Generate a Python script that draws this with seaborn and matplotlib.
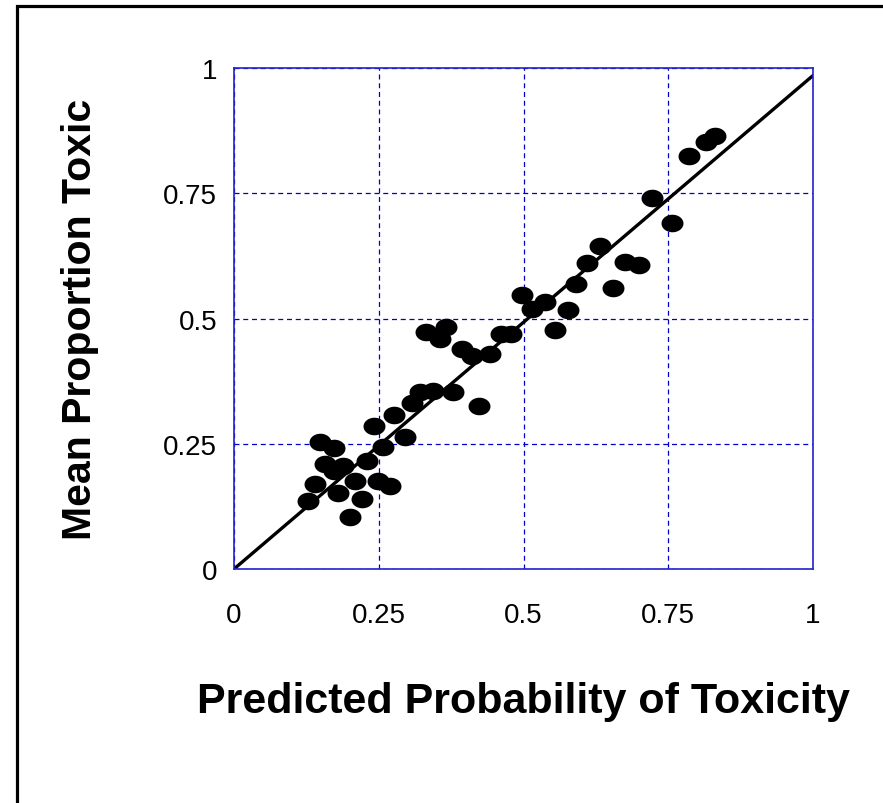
import numpy as np
import pandas as pd
import matplotlib
matplotlib.use('Agg')
import matplotlib.pyplot as plt
from matplotlib.path import Path
from matplotlib.patches import Rectangle
import seaborn as sns

# Data
predicted = [0.128, 0.140, 0.149, 0.172, 0.157, 0.189, 0.172, 0.209, 0.180, 0.221,
             0.200, 0.229, 0.249, 0.269, 0.258, 0.241, 0.277, 0.295, 0.308, 0.321,
             0.344, 0.379, 0.423, 0.332, 0.366, 0.355, 0.394, 0.411, 0.442, 0.462,
             0.478, 0.497, 0.514, 0.537, 0.576, 0.554, 0.591, 0.610, 0.632, 0.655,
             0.676, 0.699, 0.756, 0.722, 0.786, 0.815, 0.831]
observed = [0.136, 0.170, 0.253, 0.241, 0.210, 0.206, 0.196, 0.176, 0.152, 0.140,
            0.103, 0.216, 0.176, 0.166, 0.243, 0.286, 0.308, 0.263, 0.331, 0.354,
            0.356, 0.354, 0.325, 0.474, 0.484, 0.460, 0.440, 0.426, 0.429, 0.469,
            0.469, 0.546, 0.519, 0.532, 0.516, 0.477, 0.569, 0.610, 0.644, 0.560,
            0.613, 0.607, 0.691, 0.740, 0.824, 0.852, 0.865]
line_x = [0, 1]
line_y = [0, 0.985]
ticks = [0, 0.25, 0.5, 0.75, 1]
tick_labels = ['0', '0.25', '0.5', '0.75', '1']

df = pd.DataFrame({'Predicted': predicted, 'Observed': observed})

sns.set_theme(style='white')
plt.rcParams['font.family'] = ['Liberation Sans', 'DejaVu Sans']

fig = plt.figure(figsize=(8.83, 8.04), dpi=100)
ax = fig.add_axes([234 / 883, 1 - 570 / 804, 579 / 883, 501 / 804])

# outer frame around the whole figure (cut off at right and bottom)
fig.patches.append(Rectangle((16.5 / 883, -0.1), 2, (804 - 7) / 804 + 0.1,
                             transform=fig.transFigure, fill=False,
                             edgecolor='black', linewidth=2.3))

# elliptical marker, wider than tall
t = np.linspace(0, 2 * np.pi, 60)
ellipse = Path(np.column_stack([1.25 * np.cos(t), np.sin(t)]), closed=True)

ax.plot(line_x, line_y, color='black', linewidth=2.4, zorder=2)
sns.scatterplot(data=df, x='Predicted', y='Observed', marker=ellipse, s=250,
                color='black', linewidth=0, ax=ax, zorder=3)

ax.set_xlim(0, 1)
ax.set_ylim(0, 1)
ax.set_xticks(ticks)
ax.set_yticks(ticks)
ax.set_xticklabels(tick_labels)
ax.set_yticklabels(tick_labels)
ax.tick_params(axis='both', length=0, labelsize=20, colors='black')
ax.tick_params(axis='x', pad=24)
ax.tick_params(axis='y', pad=12)

ax.grid(True, color='#0000cc', linestyle=(0, (4, 3)), linewidth=0.9)
ax.set_axisbelow(True)
for sp in ax.spines.values():
    sp.set_visible(True)
    sp.set_color('#2222cc')
    sp.set_linewidth(1.2)

ax.set_xlabel('Predicted Probability of Toxicity', fontsize=31, fontweight='bold',
              color='black', labelpad=38)
ax.set_ylabel('Mean Proportion Toxic', fontsize=29.5, fontweight='bold',
              color='black', labelpad=46)

plt.savefig('out.png', dpi=100)
